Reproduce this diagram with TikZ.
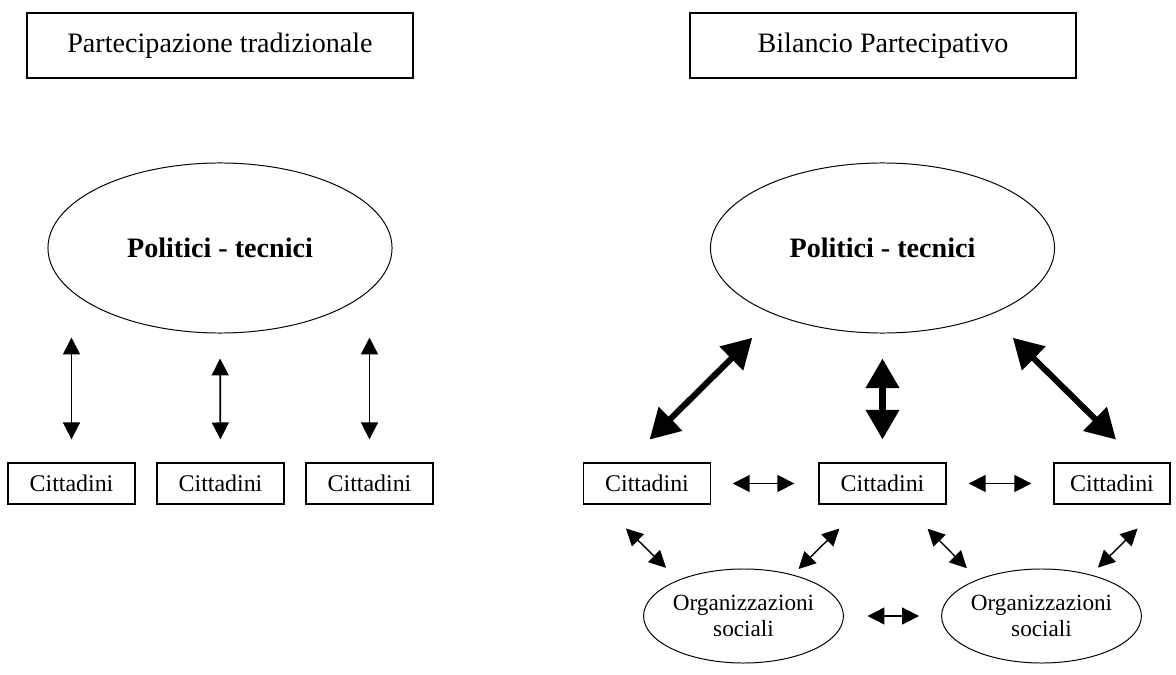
\documentclass[tikz,border=0pt]{standalone}
\usepackage{fontspec}
\setmainfont{Liberation Serif}
\usetikzlibrary{arrows.meta,shapes.geometric}

\begin{document}
\begin{tikzpicture}[x=0.025cm, y=-0.025cm,
	titlebox/.style={draw, line width=1.2pt, minimum width=9.65cm, minimum height=1.625cm, font=\fontsize{20}{24}\selectfont},
	bigoval/.style={draw, ellipse, line width=0.7pt, minimum width=8.6cm, minimum height=4.25cm, inner sep=0pt, font=\fontsize{20}{24}\selectfont\bfseries},
	citbox/.style={draw, line width=0.9pt, minimum width=3.175cm, minimum height=1.025cm, font=\fontsize{17}{20}\selectfont},
	orgoval/.style={draw, ellipse, line width=0.7pt, minimum width=4.8cm, minimum height=2.35cm, inner sep=0pt, align=center, font=\fontsize{16.5}{18.5}\selectfont},
	thinarr/.style={line width=1.2pt, {Triangle[length=12pt,width=12pt]}-{Triangle[length=12pt,width=12pt]}},
	smallarr/.style={line width=1pt, {Triangle[length=12pt,width=12pt]}-{Triangle[length=12pt,width=12pt]}},
	bigarr/.style={line width=4.3pt, {Triangle[length=21pt,width=23pt]}-{Triangle[length=21pt,width=23pt]}}]
	\useasboundingbox (0,0) rectangle (1176,675);

	% Titles
	\node[titlebox] (tl) at (220,45.5) {Partecipazione tradizionale};
	\node[titlebox] (tr) at (883,45.5) {Bilancio Partecipativo};

	% Partecipazione tradizionale
	\node[bigoval] (lp) at (220,248) {Politici - tecnici};
	\node[citbox] (l1) at (71.5,483.5) {Cittadini};
	\node[citbox] (l2) at (220.5,483.5) {Cittadini};
	\node[citbox] (l3) at (369.5,483.5) {Cittadini};
	\draw[thinarr, shorten <=0.575cm, shorten >=0.1cm] (l1.north) -- (l1.north |- lp.south);
	\draw[thinarr, shorten <=0.575cm, shorten >=0.625cm] (l2.north) -- (lp.south);
	\draw[thinarr, shorten <=0.575cm, shorten >=0.1cm] (l3.north) -- (l3.north |- lp.south);

	% Bilancio Partecipativo
	\node[bigoval] (rp) at (882.5,248) {Politici - tecnici};
	\node[citbox] (r1) at (647,483.5) {Cittadini};
	\node[citbox] (r2) at (882.5,483.5) {Cittadini};
	\node[citbox, minimum width=2.9cm] (r3) at (1112,483.5) {Cittadini};
	\draw[bigarr, shorten <=0.81cm, shorten >=0.81cm] (r1.134) -- (rp.212);
	\draw[bigarr, shorten <=0.575cm, shorten >=0.625cm] (r2.north) -- (rp.south);
	\draw[bigarr, shorten <=0.81cm, shorten >=0.81cm] (r3.38) -- (rp.328);
	\draw[smallarr, shorten <=0.54cm, shorten >=0.6cm] (r1.east) -- (r2.west);
	\draw[smallarr, shorten <=0.55cm, shorten >=0.55cm] (r2.east) -- (r3.west);

	% Organizzazioni sociali
	\node[orgoval] (o1) at (743.5,616) {Organizzazioni\\sociali};
	\node[orgoval] (o2) at (1041.5,616) {Organizzazioni\\sociali};
	\draw[smallarr, shorten <=0.85cm, shorten >=0.43cm] (r1.205) -- (o1.151);
	\draw[smallarr, shorten <=0.85cm, shorten >=0.2cm] (r2.228) -- (o1.40);
	\draw[smallarr, shorten <=0.85cm, shorten >=0.39cm] (r2.315) -- (o2.150);
	\draw[smallarr, shorten <=0.85cm, shorten >=0.25cm] (r3.337) -- (o2.40);
	\draw[smallarr, shorten <=0.59cm, shorten >=0.55cm] (o1.east) -- (o2.west);
\end{tikzpicture}
\end{document}
